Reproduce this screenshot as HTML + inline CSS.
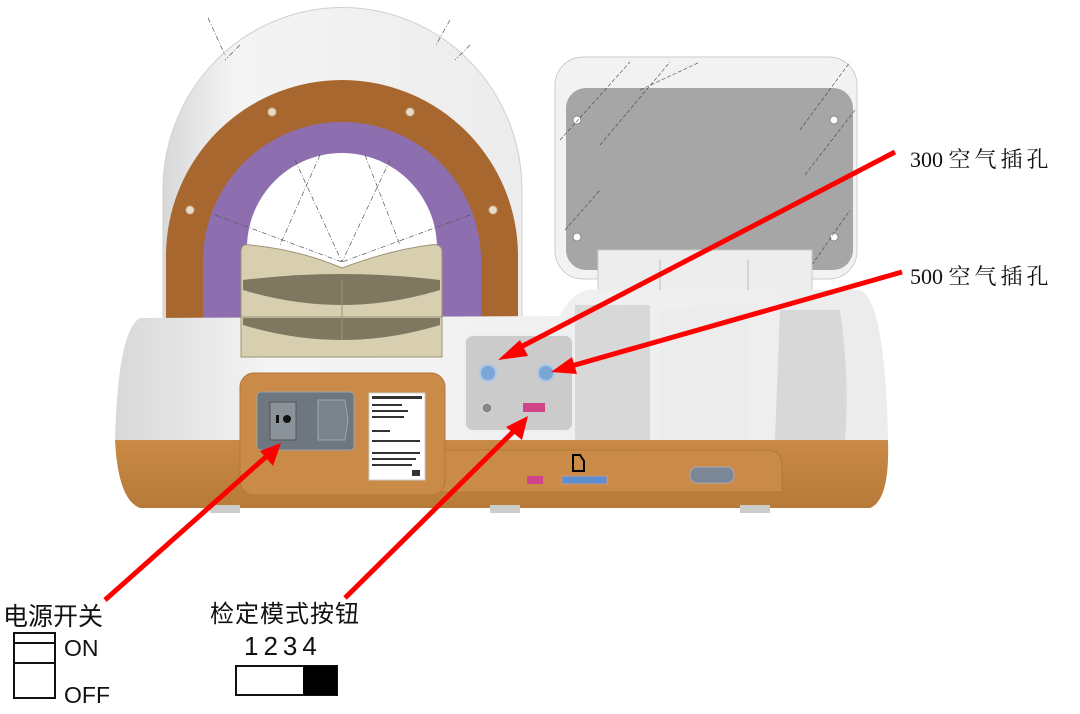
<!DOCTYPE html>
<html><head><meta charset="utf-8"><style>
html,body{margin:0;padding:0;background:#fff;width:1080px;height:714px;overflow:hidden}
svg{display:block}
.cn{font-family:"Liberation Sans","Noto Sans CJK SC",sans-serif}
.sf{font-family:"Liberation Serif","Noto Serif CJK SC",serif}
</style></head><body>
<svg width="1080" height="714" viewBox="0 0 1080 714" xmlns="http://www.w3.org/2000/svg">
<defs>
<linearGradient id="wg" x1="0" x2="1"><stop offset="0" stop-color="#d8d8d8"/><stop offset="0.2" stop-color="#f4f4f4"/><stop offset="1" stop-color="#ececec"/></linearGradient>
<linearGradient id="bg" x1="0" y1="0" x2="0" y2="1"><stop offset="0" stop-color="#c88a45"/><stop offset="1" stop-color="#b87a38"/></linearGradient>
</defs>
<path d="M163 320 L163 190 A179 182 0 0 1 522 190 L522 320 Z" fill="url(#wg)" stroke="#cfcfcf"/>
<g stroke="#555" stroke-width="0.7" stroke-dasharray="5,2,1,2"><line x1="208" y1="18" x2="225" y2="55"/><line x1="240" y1="45" x2="225" y2="60"/><line x1="450" y1="20" x2="436" y2="45"/><line x1="470" y1="45" x2="455" y2="60"/></g>
<path d="M166 318 L166 256 A176 176 0 0 1 518 256 L518 318 Z" fill="#a8672f"/>
<path d="M203 318 L203 261 A139 139 0 0 1 481 261 L481 318 Z" fill="#8d6fb0"/>
<path d="M247 300 L247 248 A95 95 0 0 1 437 248 L437 300 Z" fill="#fff"/>
<g stroke="#555" stroke-width="0.7" stroke-dasharray="5,2,1,2" fill="none">
<line x1="295" y1="160" x2="342" y2="262"/><line x1="390" y1="160" x2="342" y2="262"/>
<line x1="215" y1="215" x2="342" y2="262"/><line x1="470" y1="215" x2="342" y2="262"/>
<line x1="320" y1="155" x2="280" y2="245"/><line x1="365" y1="155" x2="400" y2="245"/>
</g>
<g fill="#e8dcc8" stroke="#c9b38f"><circle cx="272" cy="112" r="4"/><circle cx="410" cy="112" r="4"/><circle cx="190" cy="210" r="4"/><circle cx="493" cy="210" r="4"/></g>
<rect x="555" y="57" width="302" height="222" rx="28" fill="#f2f2f2" stroke="#ccc"/>
<rect x="566" y="88" width="287" height="182" rx="20" fill="#a6a6a6"/>
<g fill="#fff" stroke="#888"><circle cx="577" cy="120" r="4"/><circle cx="834" cy="120" r="4"/><circle cx="577" cy="237" r="4"/><circle cx="834" cy="237" r="4"/></g>
<g stroke="#444" stroke-width="0.6" stroke-dasharray="4,2">
<line x1="560" y1="140" x2="630" y2="62"/><line x1="600" y1="145" x2="670" y2="62"/><line x1="640" y1="90" x2="700" y2="62"/><line x1="800" y1="130" x2="850" y2="62"/><line x1="805" y1="175" x2="855" y2="110"/><line x1="565" y1="230" x2="600" y2="190"/><line x1="805" y1="275" x2="850" y2="210"/>
</g>
<rect x="598" y="250" width="214" height="190" fill="#ededed" stroke="#ccc"/>
<line x1="660" y1="260" x2="660" y2="440" stroke="#bbb"/><line x1="748" y1="260" x2="748" y2="440" stroke="#bbb"/>
<path d="M115 440 Q118 330 140 318 L560 316 Q575 285 600 290 L860 290 Q885 300 888 440 Z" fill="url(#wg)"/>
<path d="M575 305 L650 305 L650 440 L575 440 Z" fill="#d8d8d8"/>
<path d="M780 310 L840 310 Q850 380 845 440 L775 440 Z" fill="#d8d8d8"/>
<rect x="660" y="310" width="90" height="130" fill="#ececec"/>
<path d="M115 440 L888 440 Q890 500 870 508 L140 508 Q118 500 115 440 Z" fill="url(#bg)"/>
<path d="M440 450 L770 450 Q782 452 782 465 L782 492 L440 492 Z" fill="#c98b47" stroke="#b5763a"/>
<rect x="210" y="505" width="30" height="8" fill="#ccc"/><rect x="490" y="505" width="30" height="8" fill="#ccc"/><rect x="740" y="505" width="30" height="8" fill="#ccc"/>
<path d="M241 252 Q241 243 250 245 Q300 250 342 268 Q390 250 430 245 Q442 243 442 252 L442 357 L241 357 Z" fill="#d8ceb0" stroke="#9d9474"/>
<path d="M243 280 Q342 268 440 280 L440 290 Q342 320 243 290 Z" fill="#7f775f"/>
<path d="M243 318 L440 318 L440 325 Q342 355 243 325 Z" fill="#7f775f"/>
<line x1="241" y1="317" x2="442" y2="317" stroke="#9d9474"/>
<line x1="342" y1="280" x2="342" y2="340" stroke="#9d9474"/>
<rect x="240" y="373" width="205" height="122" rx="14" fill="#c98b47" stroke="#b5763a"/>
<rect x="257" y="392" width="97" height="58" rx="4" fill="#6e7680" stroke="#9aa4ad"/>
<rect x="270" y="402" width="26" height="38" fill="#8a929a" stroke="#555"/>
<rect x="276" y="415" width="3" height="8" fill="#111"/><circle cx="287" cy="419" r="4" fill="#111"/>
<path d="M318 400 L345 400 L348 420 L345 440 L318 440 Z" fill="#7a828b" stroke="#9aa"/>
<rect x="369" y="393" width="56" height="87" fill="#fff" stroke="#ccc"/>
<g fill="#333"><rect x="372" y="396" width="50" height="3"/><rect x="372" y="404" width="30" height="2"/><rect x="372" y="410" width="36" height="2"/><rect x="372" y="416" width="32" height="2"/><rect x="372" y="430" width="18" height="2"/><rect x="372" y="440" width="48" height="2"/><rect x="372" y="452" width="48" height="2"/><rect x="372" y="458" width="44" height="2"/><rect x="372" y="464" width="40" height="2"/><rect x="412" y="470" width="8" height="6"/></g>
<rect x="465" y="335" width="108" height="96" rx="8" fill="#cbcbcb" stroke="#eee" stroke-width="2"/>
<circle cx="488" cy="373" r="8" fill="#7aa6d6" stroke="#a9c7e8" stroke-width="2"/>
<circle cx="546" cy="373" r="8" fill="#7aa6d6" stroke="#a9c7e8" stroke-width="2"/>
<circle cx="487" cy="408" r="5" fill="#888" stroke="#ddd"/>
<rect x="523" y="403" width="22" height="9" fill="#d0448a"/>
<rect x="527" y="476" width="16" height="8" fill="#d0448a"/>
<rect x="562" y="476" width="45" height="8" fill="#5a8fd0" stroke="#c98"/>
<path d="M573 455 L580 455 L584 461 L584 471 L573 471 Z" fill="none" stroke="#000" stroke-width="2"/>
<rect x="690" y="467" width="44" height="16" rx="7" fill="#7b8696" stroke="#aab"/>
<g stroke="#f00" stroke-width="5" fill="#f00">
<line x1="895" y1="152" x2="515" y2="350"/><polygon stroke="none" points="498,360 520,340 528,356"/>
<line x1="902" y1="272" x2="568" y2="367"/><polygon stroke="none" points="551,372 572,357 577,374"/>
<line x1="105" y1="600" x2="268" y2="455"/><polygon stroke="none" points="281,443 273,466 260,451"/>
<line x1="345" y1="598" x2="516" y2="429"/><polygon stroke="none" points="528,416 522,440 506,427"/>
</g>
<text class="sf" x="910" y="167" font-size="22" fill="#111">300 <tspan letter-spacing="4">空气插孔</tspan></text>
<text class="sf" x="910" y="284" font-size="22" fill="#111">500 <tspan letter-spacing="4">空气插孔</tspan></text>
<text class="cn" x="3" y="625" font-size="25" fill="#111">电源开关</text>
<text class="cn" x="210" y="622" font-size="24" fill="#111" letter-spacing="1">检定模式按钮</text>
<rect x="14" y="633" width="41" height="65" fill="#fff" stroke="#111" stroke-width="2"/>
<line x1="14" y1="643" x2="55" y2="643" stroke="#111" stroke-width="2"/>
<line x1="14" y1="663" x2="55" y2="663" stroke="#111" stroke-width="2"/>
<text class="cn" x="64" y="656" font-size="23" fill="#111">ON</text>
<text class="cn" x="64" y="703" font-size="23" fill="#111">OFF</text>
<text class="cn" x="244" y="655" font-size="26" fill="#111" letter-spacing="5">1234</text>
<rect x="236" y="666" width="101" height="29" fill="#fff" stroke="#111" stroke-width="2"/>
<rect x="303" y="666" width="34" height="29" fill="#000"/>
</svg>
</body></html>
